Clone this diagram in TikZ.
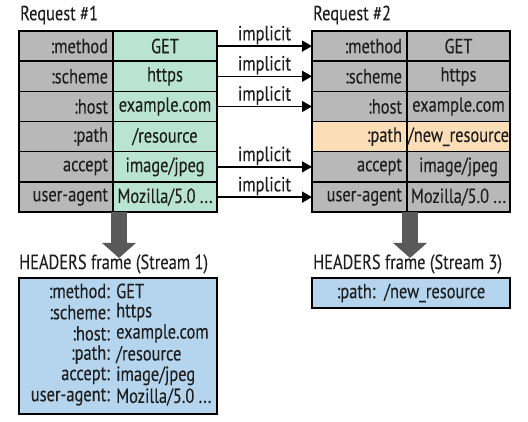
\documentclass[tikz,border=0pt]{standalone}
\usepackage{fontspec}
\setmainfont{PT Sans}[FakeStretch=0.8, FakeBold=0.15]
\usetikzlibrary{arrows.meta,positioning}
\definecolor{keygray}{HTML}{B8B8B8}
\definecolor{valgreen}{HTML}{B9E3D3}
\definecolor{changed}{HTML}{FBDDB7}
\definecolor{framefill}{HTML}{B5D5EE}
\definecolor{bigarrow}{HTML}{595959}
\definecolor{ink}{HTML}{1E1E1E}
\newcommand{\uadots}{Mozilla/5.0 ...}
\begin{document}
\begin{tikzpicture}[x=1pt,y=-1pt,
  font=\fontsize{20.5}{22}\selectfont, text=ink,
  cell/.style={draw=black, line width=1.4pt, minimum height=30.2pt, inner sep=0pt, outer sep=0pt},
  keycell/.style={cell, fill=keygray, minimum width=#1, text width=#1-10pt, align=right},
  valcell/.style={cell, fill=valgreen, minimum width=#1, align=center},
  linkarrow/.style={line width=1.4pt, -{Triangle[length=10pt,width=11pt]}},
  linklabel/.style={above, inner sep=2pt, yshift=-1pt},
  downarrow/.style={draw=bigarrow, line width=16pt, -{Triangle[length=15pt,width=33pt]}},
  frame/.style={draw=black, line width=1.8pt, fill=framefill, inner sep=0pt, outer sep=0pt},
  title/.style={anchor=west, inner sep=0pt}]
\useasboundingbox (0,0) rectangle (528,422);

% request tables: key column and value column, six rows each
\foreach \k/\v [count=\i] in {{:method}/{GET}, {:scheme}/{https}, {:host}/{example.com},
    {:path}/{/resource}, {accept}/{image/jpeg}, {user-agent}/{\uadots}}{
  \node[keycell=94pt, anchor=north west] (a\i) at (19,{31+(\i-1)*30.2}) {\k};
  \node[valcell=104pt, anchor=north west] (b\i) at (113,{31+(\i-1)*30.2}) {\v};
}
\foreach \k/\v [count=\i] in {{:method}/{GET}, {:scheme}/{https}, {:host}/{example.com},
    {:path}/{/new\_resource}, {accept}/{image/jpeg}, {user-agent}/{\uadots}}{
  \node[keycell=95pt, anchor=north west] (c\i) at (312,{31+(\i-1)*30.2}) {\k};
  \node[valcell=103pt, fill=keygray, anchor=north west] (d\i) at (407,{31+(\i-1)*30.2}) {\v};
}
% the changed header in the second request
\node[keycell=95pt, fill=changed, anchor=north west] (c4) at (312,{31+3*30.2}) {:path};
\node[valcell=103pt, fill=changed, anchor=north west] (d4) at (407,{31+3*30.2}) {/new\_resource};
% heavier outline round each table
\draw[line width=1.8pt] (a1.north west) rectangle (b6.south east);
\draw[line width=1.8pt] (c1.north west) rectangle (d6.south east);

\node[title] (req1) at (20,15) {Request \#1};
\node[title] (req2) at (313,15) {Request \#2};

% headers carried over implicitly
\foreach \i in {1,2,3,5,6}{
  \draw[linkarrow] (b\i.east) -- node[linklabel] {implicit} (c\i.west);
}

% encoding arrows down to the frames
\coordinate (s1) at (119,212);
\coordinate (t1) at (119,258);
\coordinate (s2) at (410,212);
\coordinate (t2) at (410,258);
\draw[downarrow] (s1) -- (t1);
\draw[downarrow] (s2) -- (t2);

\node[title] (h1) at (19,264) {HEADERS frame (Stream 1)};
\node[title] (h2) at (313,264) {HEADERS frame (Stream 3)};

% HEADERS frame for stream 1
\node[frame, minimum width=198pt, minimum height=136pt, anchor=north west] (f1) at (19,278) {};
\foreach \k/\v [count=\i] in {{:method}/{GET}, {:scheme}/{https}, {:host}/{example.com},
    {:path}/{/resource}, {accept}/{image/jpeg}, {user-agent}/{\uadots}}{
  \node[anchor=east, inner sep=0pt] (fk\i) at (110,{291+(\i-1)*21.2}) {\k:};
  \node[anchor=west, inner sep=0pt] (fv\i) at (116,{291+(\i-1)*21.2}) {\v};
}

% HEADERS frame for stream 3
\node[frame, minimum width=198pt, minimum height=30pt, anchor=north west] (f2) at (312,278)
  {:path:\ \ /new\_resource};
\end{tikzpicture}
\end{document}
